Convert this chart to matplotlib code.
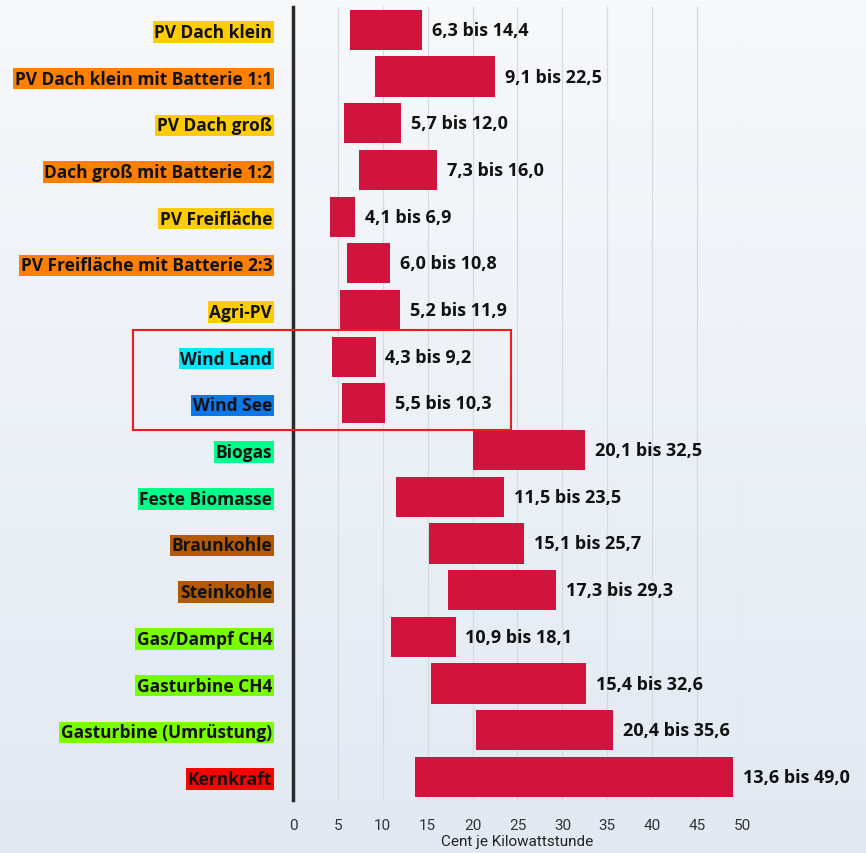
import matplotlib
matplotlib.use("Agg")
import matplotlib.pyplot as plt
import numpy as np
from matplotlib.patches import Rectangle
from matplotlib.colors import LinearSegmentedColormap

categories = [
    "PV Dach klein", "PV Dach klein mit Batterie 1:1", "PV Dach groß",
    "Dach groß mit Batterie 1:2", "PV Freifläche", "PV Freifläche mit Batterie 2:3",
    "Agri-PV", "Wind Land", "Wind See", "Biogas", "Feste Biomasse",
    "Braunkohle", "Steinkohle", "Gas/Dampf CH4", "Gasturbine CH4",
    "Gasturbine (Umrüstung)", "Kernkraft",
]
low = [6.3, 9.1, 5.7, 7.3, 4.1, 6.0, 5.2, 4.3, 5.5, 20.1, 11.5, 15.1, 17.3, 10.9, 15.4, 20.4, 13.6]
high = [14.4, 22.5, 12.0, 16.0, 6.9, 10.8, 11.9, 9.2, 10.3, 32.5, 23.5, 25.7, 29.3, 18.1, 32.6, 35.6, 49.0]
label_colors = [
    "#ffcc00", "#ff8000", "#ffcc00", "#ff8000", "#ffcc00", "#ff8000", "#ffcc00",
    "#00e8ff", "#0a78ea", "#00ff8a", "#00ff8a", "#b35a00", "#b35a00",
    "#77ff00", "#77ff00", "#77ff00", "#ff0000",
]
xticks = [0, 5, 10, 15, 20, 25, 30, 35, 40, 45, 50]
xlabel = "Cent je Kilowattstunde"

def fmt(v):
    return f"{v:.1f}".replace(".", ",")

fig = plt.figure(figsize=(8.66, 8.54), dpi=100)
bg = fig.add_axes([0, 0, 1, 1], zorder=-10)
grad = np.linspace(0, 1, 256).reshape(-1, 1)
cmap = LinearSegmentedColormap.from_list("bg", ["#f7f9fb", "#e2e9f2"])
bg.imshow(grad, aspect="auto", cmap=cmap, extent=[0, 1, 0, 1], origin="upper")
bg.axis("off")

ax = fig.add_axes([0.3383, 0.0617, 0.5185, 0.9295])
ax.patch.set_alpha(0)
y = np.arange(len(categories))
ax.barh(y, np.array(high) - np.array(low), left=low, height=0.86,
        color="#d0143e", zorder=3)
for yi, lo, hi in zip(y, low, high):
    ax.text(hi + 1.1, yi, f"{fmt(lo)} bis {fmt(hi)}", va="center", ha="left",
            fontsize=13.0, fontweight="bold", family="Open Sans", color="#111111",
            clip_on=False)

ax.set_xlim(0, 50)
ax.set_ylim(len(categories) - 0.5, -0.5)
ax.set_yticks(y)
ax.set_yticklabels(categories, fontsize=12.5, fontweight="bold", family="Open Sans",
                   color="#111111")
for lab, c in zip(ax.get_yticklabels(), label_colors):
    lab.set_bbox(dict(facecolor=c, edgecolor="none", pad=1.3))
ax.tick_params(axis="y", length=0, pad=15)
ax.set_xticks(xticks)
ax.set_xticklabels([str(t) for t in xticks], fontsize=11, family="Roboto",
                   color="#333333")
ax.tick_params(axis="x", length=0, pad=13)
ax.set_xlabel(xlabel, fontsize=11, family="Roboto", color="#222222", labelpad=1)
ax.grid(axis="x", color="#d6dbe2", linewidth=0.9, zorder=0)
for s in ["top", "right", "bottom"]:
    ax.spines[s].set_visible(False)
ax.spines["left"].set_color("#2a2a2a")
ax.spines["left"].set_linewidth(2.5)

ax.add_patch(Rectangle((-17.8, 6.42), 42.1, 2.14, fill=False, edgecolor="#ee1c1c",
                       linewidth=1.5, clip_on=False, zorder=5))

fig.savefig("out.png", dpi=100)
